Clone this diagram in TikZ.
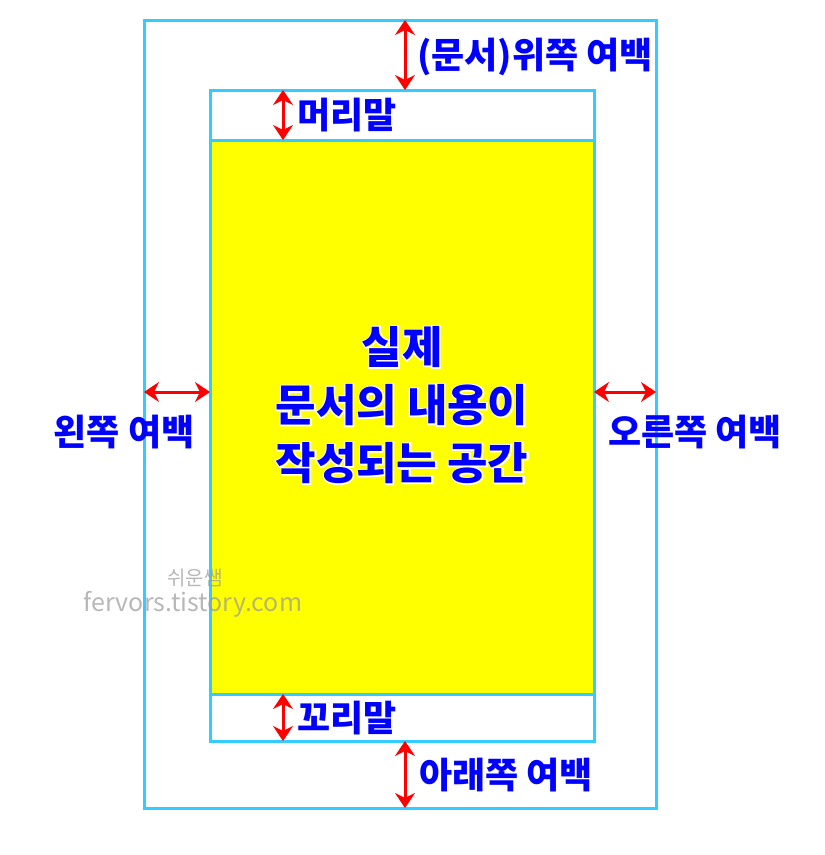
\documentclass[tikz,border=0pt]{standalone}
\usepackage{fontspec}
\usepackage{xcolor}
\usetikzlibrary{arrows.meta}
\newfontfamily\kofont{Noto Sans CJK KR}
\newfontfamily\kohalo{Noto Sans CJK KR}[BoldFeatures={FakeBold=6}]
\definecolor{framecol}{RGB}{51,204,255}
\definecolor{labelcol}{RGB}{0,0,255}
\definecolor{arrowcol}{RGB}{255,0,0}
\definecolor{bodycol}{RGB}{255,255,0}

\begin{document}
\begin{tikzpicture}[x=1pt, y=-1pt,
        frame/.style={draw=framecol, line width=3pt, inner sep=0pt, outer sep=0pt},
        gap/.style={{Stealth[length=15pt,width=20pt,inset=5pt]}-{Stealth[length=15pt,width=20pt,inset=5pt]}, draw=arrowcol, line width=3pt},
        lbl/.style={text=labelcol, font=\kofont\bfseries\fontsize{36}{40}\selectfont, inner sep=0pt},
        bodyfont/.style={align=center, inner sep=0pt},
        wmtext/.style={text=black!40, text opacity=0.7, inner sep=0pt}]
        \useasboundingbox (0,0) rectangle (825,855);
        \node[frame, minimum width=512, minimum height=788] (page) at (400,414) {};
        \node[frame, fill=bodycol, minimum width=384, minimum height=554] (body) at (402,417) {};
        \node[frame, minimum width=384, minimum height=651] (paper) at (402,415.5) {};
        \coordinate (tx) at (405,0);
        \coordinate (hx) at (283,0);
        \coordinate (my) at (0,392);
        \draw[gap] (page.north -| tx) -- (paper.north -| tx);
        \draw[gap] (paper.north -| hx) -- (body.north -| hx);
        \draw[gap] (body.south -| hx) -- (paper.south -| hx);
        \draw[gap] (paper.south -| tx) -- (page.south -| tx);
        \draw[gap] (page.west |- my) -- (paper.west |- my);
        \draw[gap] (paper.east |- my) -- (page.east |- my);
        \node[lbl, anchor=west] (toplbl) at (417,57) {(문서)위쪽 여백};
        \node[lbl, anchor=west] (headlbl) at (297,115) {머리말};
        \node[lbl, anchor=west] (footlbl) at (297,718) {꼬리말};
        \node[lbl, anchor=west] (botlbl) at (419,775) {아래쪽 여백};
        \node[lbl] (leftlbl) at (124,432) {왼쪽 여백};
        \node[lbl] (rightlbl) at (695,432) {오른쪽 여백};
        \node[bodyfont, text=white, font=\kohalo\bfseries\fontsize{44}{58}\selectfont] (bodyhalo) at (402,405) {실제\\문서의 내용이\\작성되는 공간};
        \node[bodyfont, text=labelcol, font=\kofont\bfseries\fontsize{44}{58}\selectfont] (bodytext) at (bodyhalo.center) {실제\\문서의 내용이\\작성되는 공간};
        \node[wmtext, font=\kofont\fontsize{20}{22}\selectfont] (wmname) at (195,578) {쉬운쌤};
        \node[wmtext, font=\kofont\fontsize{25}{27}\selectfont] (wmurl) at (193,604) {fervors.tistory.com};
    \end{tikzpicture}
\end{document}
